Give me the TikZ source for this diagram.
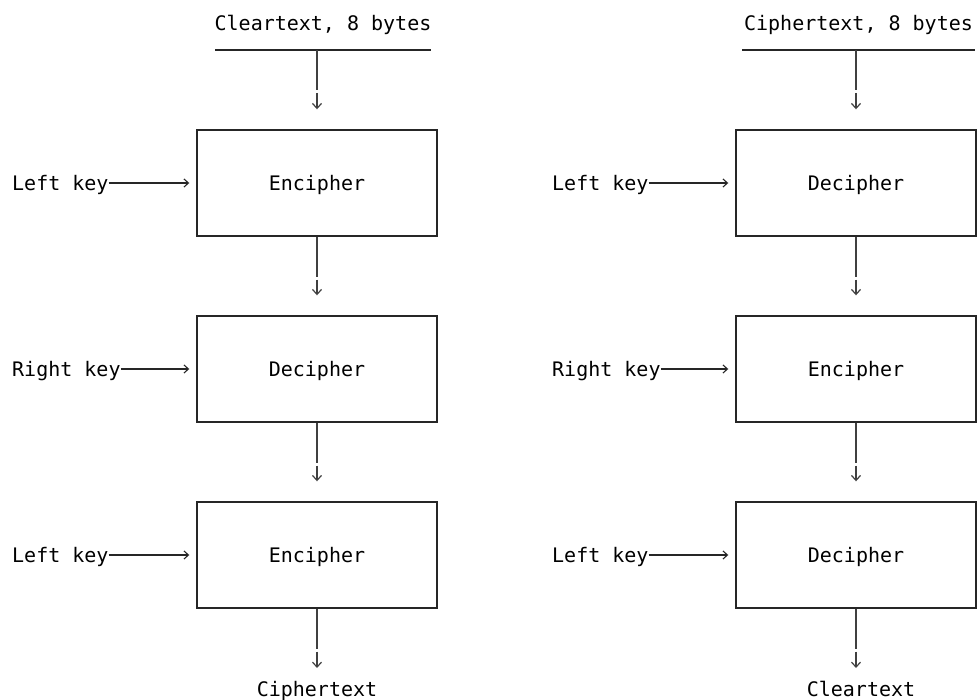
\documentclass[tikz,border=0pt]{standalone}
\usepackage{fontspec}
\setmainfont{DejaVu Sans Mono}
\usetikzlibrary{arrows.meta}
\begin{document}
\begin{tikzpicture}[x=1pt,y=-1pt,
  txt/.style={font=\fontsize{20}{24}\selectfont, inner sep=0pt, text height=14.6pt, text depth=0pt},
  keylbl/.style={txt, anchor=west},
  cbox/.style={draw=black!85, line width=1.4pt, minimum width=240pt, minimum height=106pt, inner sep=0pt, txt},
  vconn/.style={draw=black!75, line width=1.6pt, dash pattern=on 40pt off 3pt on 30pt,
     -{Straight Barb[length=5pt,width=9pt,line width=1.2pt]}},
  hconn/.style={draw=black!85, line width=1.1pt, shorten >=7pt,
     -{Straight Barb[length=4.5pt,width=8pt,line width=1.1pt]}},
  rule/.style={draw=black!85, line width=1.4pt}]
\useasboundingbox (0,0) rectangle (978,700);

% ---------- left column ----------
\node[txt] (inL) at (323,23.5) {Cleartext, 8 bytes};
\coordinate (ruleLa) at (215,50);
\coordinate (ruleLb) at (431,50);
\coordinate (tL) at (317,50);
\draw[rule] (ruleLa) -- (ruleLb);

\node[cbox] (L1) at (317,183) {Encipher};
\node[cbox] (L2) at (317,369) {Decipher};
\node[cbox] (L3) at (317,555) {Encipher};
\node[txt] (outL) at (317,689.5) {Ciphertext};

\node[keylbl] (kL1) at (12,183) {Left key};
\node[keylbl] (kL2) at (12,369) {Right key};
\node[keylbl] (kL3) at (12,555) {Left key};

\draw[vconn, shorten >=20pt] (tL) -- (L1.north);
\draw[vconn, shorten >=20pt] (L1.south) -- (L2.north);
\draw[vconn, shorten >=20pt] (L2.south) -- (L3.north);
\draw[vconn, shorten >=14pt] (L3.south) -- (outL.north);

\draw[hconn] (kL1.east) -- (L1.west);
\draw[hconn] (kL2.east) -- (L2.west);
\draw[hconn] (kL3.east) -- (L3.west);

% ---------- right column ----------
\node[txt] (inR) at (858.5,23.5) {Ciphertext, 8 bytes};
\coordinate (ruleRa) at (742,50);
\coordinate (ruleRb) at (975,50);
\coordinate (tR) at (856,50);
\draw[rule] (ruleRa) -- (ruleRb);

\node[cbox] (R1) at (856,183) {Decipher};
\node[cbox] (R2) at (856,369) {Encipher};
\node[cbox] (R3) at (856,555) {Decipher};
\node[txt] (outR) at (861,689.5) {Cleartext};

\node[keylbl] (kR1) at (552,183) {Left key};
\node[keylbl] (kR2) at (552,369) {Right key};
\node[keylbl] (kR3) at (552,555) {Left key};

\draw[vconn, shorten >=20pt] (tR) -- (R1.north);
\draw[vconn, shorten >=20pt] (R1.south) -- (R2.north);
\draw[vconn, shorten >=20pt] (R2.south) -- (R3.north);
\draw[vconn, shorten >=14pt] (R3.south) -- (R3.south |- outR.north);

\draw[hconn] (kR1.east) -- (R1.west);
\draw[hconn] (kR2.east) -- (R2.west);
\draw[hconn] (kR3.east) -- (R3.west);
\end{tikzpicture}
\end{document}
